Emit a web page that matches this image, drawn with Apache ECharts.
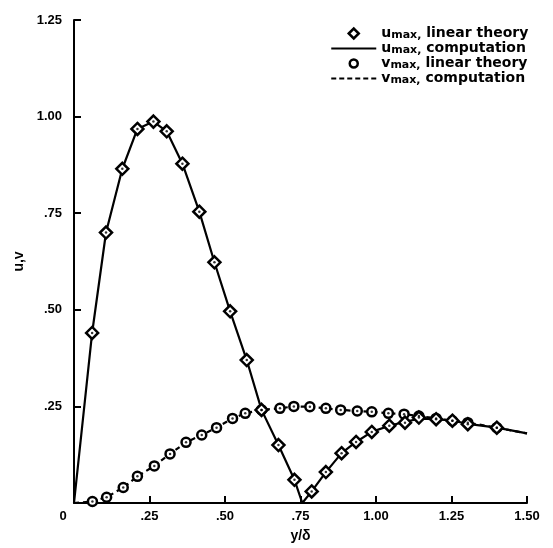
<!DOCTYPE html>
<html>
<head>
<meta charset="utf-8">
<script src="https://cdn.jsdelivr.net/npm/echarts@6/dist/echarts.min.js"></script>
<style>html,body{margin:0;padding:0;background:#fff}#c{width:553px;height:548px}</style>
</head>
<body>
<div id="c"></div>
<script>
// tick labels
const xTickLabels = ['0', '.25', '.50', '.75', '1.00', '1.25', '1.50'];
const yTickLabels = ['', '.25', '.50', '.75', '1.00', '1.25'];

// u_max, linear theory (diamonds)
const uTheoryX = [0.06, 0.106, 0.16, 0.21, 0.263, 0.307, 0.359, 0.415, 0.465, 0.517, 0.572, 0.621, 0.677, 0.73, 0.787, 0.834, 0.886, 0.934, 0.986, 1.044, 1.096, 1.142, 1.199, 1.253, 1.304, 1.40];
const uTheoryY = [0.44, 0.70, 0.865, 0.968, 0.987, 0.962, 0.878, 0.754, 0.623, 0.496, 0.37, 0.241, 0.15, 0.06, 0.03, 0.08, 0.129, 0.158, 0.184, 0.2, 0.208, 0.221, 0.217, 0.213, 0.204, 0.195];

// u_max, computation (solid)
const uCompX = [0, 0.06, 0.106, 0.16, 0.21, 0.263, 0.307, 0.359, 0.415, 0.465, 0.517, 0.572, 0.621, 0.677, 0.73, 0.756, 0.787, 0.834, 0.886, 0.934, 0.986, 1.044, 1.096, 1.142, 1.199, 1.253, 1.304, 1.40, 1.5];
const uCompY = [0, 0.44, 0.70, 0.865, 0.968, 0.987, 0.962, 0.878, 0.754, 0.623, 0.496, 0.37, 0.241, 0.15, 0.06, 0.0, 0.03, 0.08, 0.129, 0.158, 0.184, 0.2, 0.21, 0.218, 0.217, 0.213, 0.205, 0.195, 0.18];

// v_max, linear theory (circles)
const vTheoryX = [0.061, 0.108, 0.163, 0.21, 0.266, 0.318, 0.371, 0.423, 0.472, 0.525, 0.567, 0.621, 0.682, 0.728, 0.781, 0.834, 0.883, 0.938, 0.986, 1.041, 1.093, 1.142, 1.199, 1.253, 1.304, 1.40];
const vTheoryY = [0.004, 0.015, 0.04, 0.069, 0.096, 0.127, 0.157, 0.176, 0.195, 0.219, 0.232, 0.241, 0.245, 0.25, 0.249, 0.245, 0.241, 0.238, 0.236, 0.232, 0.23, 0.225, 0.219, 0.213, 0.208, 0.195];

// v_max, computation (dashed)
const vCompX = [0, 0.061, 0.108, 0.163, 0.21, 0.266, 0.318, 0.371, 0.423, 0.472, 0.525, 0.567, 0.621, 0.682, 0.728, 0.781, 0.834, 0.883, 0.938, 0.986, 1.041, 1.093, 1.142, 1.199, 1.253, 1.304, 1.40, 1.5];
const vCompY = [0, 0.004, 0.015, 0.04, 0.069, 0.096, 0.127, 0.157, 0.176, 0.195, 0.219, 0.232, 0.241, 0.245, 0.25, 0.249, 0.245, 0.241, 0.238, 0.236, 0.232, 0.23, 0.225, 0.219, 0.213, 0.208, 0.195, 0.18];

const zip = (xs, ys) => xs.map((x, i) => [x, ys[i]]);

const FONT = 'Liberation Sans';
const LFONT = 'DejaVu Sans';

const chart = echarts.init(document.getElementById('c'), null, {renderer: 'canvas'});

const names = {
  ut: 'u_max, linear theory',
  uc: 'u_max, computation',
  vt: 'v_max, linear theory',
  vc: 'v_max, computation'
};

function legendFmt(name) {
  const sym = name.charAt(0);
  const rest = name.slice(6);
  return '{b|' + sym + '}{s|max,}{b|' + rest.replace(/^,/, '') + '}';
}

// diamond / circle icons padded to a 45x10 box so they stay centred and unstretched
const diamondIcon = 'path://M0,5L0,5.01M45,5L45,5.01M17.5,5L22.5,0L27.5,5L22.5,10Z';
const circleIcon = 'path://M0,5L0,5.01M45,5L45,5.01M22.5,1A4,4,0,1,1,22.49,1Z';
const solidIcon = 'path://M0,4L45,4L45,6L0,6Z';
const dashIcon = 'path://M0,4h5v2h-5ZM8,4h5v2h-5ZM16,4h5v2h-5ZM24,4h5v2h-5ZM32,4h5v2h-5ZM40,4h5v2h-5Z';

const legendRich = {
  b: {fontFamily: LFONT, fontWeight: 'bold', fontSize: 14, color: '#000', lineHeight: 12},
  s: {fontFamily: LFONT, fontWeight: 'bold', fontSize: 11, color: '#000', padding: [4, 0, 0, 0], lineHeight: 8}
};

chart.setOption({
  animation: false,
  backgroundColor: '#fff',
  grid: {left: 74, right: 26, top: 20, bottom: 44, containLabel: false},
  legend: {
    orient: 'vertical',
    left: 330,
    top: 26,
    itemWidth: 45,
    itemHeight: 10,
    itemGap: 0,
    padding: 0,
    selectedMode: false,
    data: [
      {name: names.ut, icon: diamondIcon, itemStyle: {color: '#fff', borderColor: '#000', borderWidth: 2.5}},
      {name: names.uc, icon: solidIcon, itemStyle: {color: '#000', borderWidth: 0}},
      {name: names.vt, icon: circleIcon, itemStyle: {color: '#fff', borderColor: '#000', borderWidth: 2.5}},
      {name: names.vc, icon: dashIcon, itemStyle: {color: '#000', borderWidth: 0}}
    ],
    formatter: legendFmt,
    textStyle: {color: '#000', padding: [0, 0, 0, 0], rich: legendRich}
  },
  xAxis: {
    type: 'value',
    min: 0, max: 1.5, interval: 0.25,
    name: 'y/δ',
    nameLocation: 'middle',
    nameGap: 26,
    nameTextStyle: {fontFamily: FONT, fontWeight: 'bold', fontSize: 14, color: '#000'},
    axisLine: {show: true, lineStyle: {color: '#000', width: 2}},
    axisTick: {show: true, inside: true, length: 7, lineStyle: {color: '#000', width: 2}},
    splitLine: {show: false},
    axisLabel: {
      margin: 7,
      color: '#000',
      fontFamily: FONT, fontWeight: 'bold', fontSize: 13,
      formatter: v => {
        const i = Math.round(v / 0.25);
        return i === 0 ? '{z|' + xTickLabels[0] + '}' : xTickLabels[i];
      },
      rich: {z: {fontFamily: FONT, fontWeight: 'bold', fontSize: 13, color: '#000', padding: [0, 22, 0, 0]}}
    }
  },
  yAxis: {
    type: 'value',
    min: 0, max: 1.25, interval: 0.25,
    name: 'u,v',
    nameLocation: 'middle',
    nameGap: 48,
    nameRotate: 90,
    nameTextStyle: {fontFamily: FONT, fontWeight: 'bold', fontSize: 14, color: '#000'},
    axisLine: {show: true, lineStyle: {color: '#000', width: 2}},
    axisTick: {show: true, inside: true, length: 7, lineStyle: {color: '#000', width: 2}},
    splitLine: {show: false},
    axisLabel: {
      margin: 12,
      color: '#000',
      fontFamily: FONT, fontWeight: 'bold', fontSize: 13,
      formatter: v => yTickLabels[Math.round(v / 0.25)]
    }
  },
  series: [
    {
      name: names.uc, type: 'line', data: zip(uCompX, uCompY),
      symbol: 'none', lineStyle: {color: '#000', width: 2.2}, itemStyle: {color: '#000'}, z: 2
    },
    {
      name: names.vc, type: 'line', data: zip(vCompX, vCompY),
      symbol: 'none', lineStyle: {color: '#000', width: 2.2, type: [5, 4]}, itemStyle: {color: '#000'}, z: 2
    },
    {
      name: names.ut, type: 'scatter', data: zip(uTheoryX, uTheoryY),
      symbol: 'diamond', symbolSize: [12, 12],
      itemStyle: {color: '#fff', borderColor: '#000', borderWidth: 2.5, opacity: 1}, z: 4
    },
    {
      name: names.vt, type: 'scatter', data: zip(vTheoryX, vTheoryY),
      symbol: 'circle', symbolSize: 9,
      itemStyle: {color: '#fff', borderColor: '#000', borderWidth: 2.5, opacity: 1}, z: 3
    },
    {
      name: 'uDot', type: 'scatter', data: zip(uTheoryX, uTheoryY),
      symbol: 'circle', symbolSize: 2.5, itemStyle: {color: '#000'}, z: 5, silent: true
    },
    {
      name: 'vDot', type: 'scatter', data: zip(vTheoryX, vTheoryY),
      symbol: 'circle', symbolSize: 2.5, itemStyle: {color: '#000'}, z: 5, silent: true
    }
  ]
});
</script>
</body>
</html>
